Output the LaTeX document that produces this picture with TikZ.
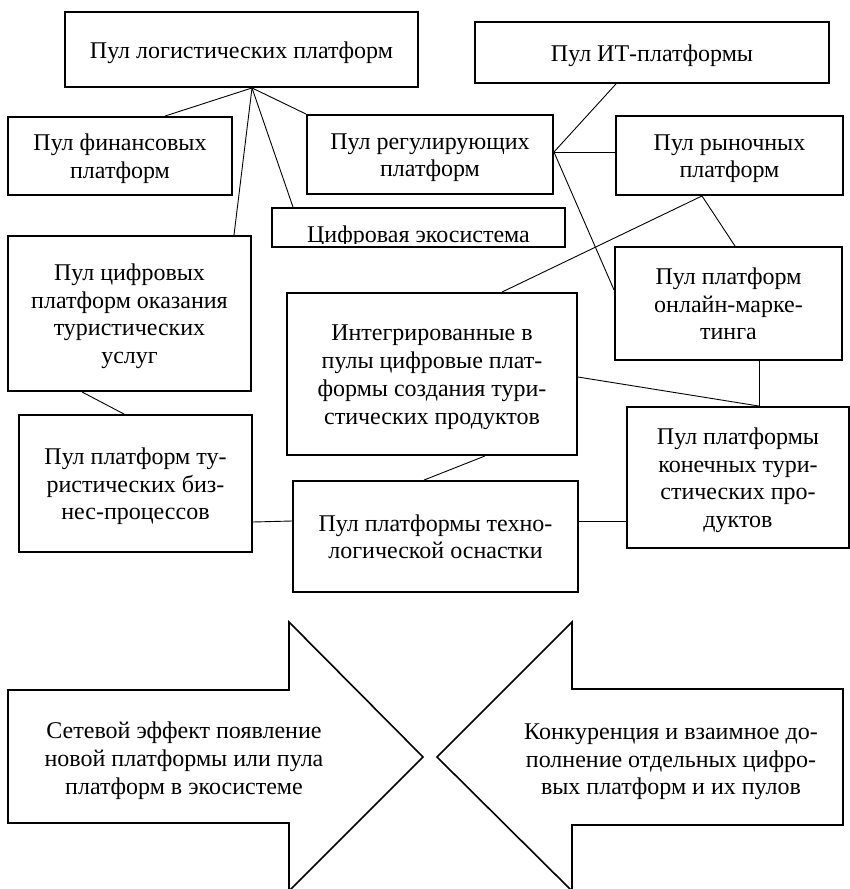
\documentclass[tikz,border=0pt]{standalone}
\usepackage{fontspec}
\setmainfont{Liberation Serif}
\newcommand\firststrut{\rule{0pt}{18pt}}
\newcommand\laststrut{\rule[-6pt]{0pt}{0pt}}
\newcommand\mybox[5]{%
  \node[box, minimum width=#3pt, minimum height=#4pt] (#1) at (#2) {};
  \node[txt, yshift=-2.5pt] (#1-t) at (#1) {\firststrut#5\laststrut};}
\begin{document}
\begin{tikzpicture}[x=1pt,y=-1pt,
  txt/.style={align=center, inner sep=0pt, font=\fontsize{24}{27.7}\selectfont},
  box/.style={draw, line width=1.9pt, inner sep=0pt},
  link/.style={line width=0.9pt},
  bigarrow/.style={draw, line width=1.6pt, line join=miter}]
\useasboundingbox (0,0) rectangle (850,889);

% boxes
\mybox{log}{241.5,49.5}{353}{75}{Пул логистических платформ}
\mybox{fin}{120,156}{224}{78}{Пул финансовых\\платформ}
\mybox{reg}{430,154.5}{246}{79}{Пул регулирующих\\платформ}
\node[box, minimum width=293pt, minimum height=39pt] (eco) at (418.5,227.5) {};
\begin{scope}
  \clip (eco.north west) rectangle ([yshift=4pt]eco.south east);
  \node[txt, anchor=base] (eco-t) at (418.5,242) {Цифровая экосистема};
\end{scope}
\mybox{it}{652,52.5}{354}{61}{Пул ИТ-платформы}
\mybox{mkt}{729.5,155.5}{227}{79}{Пул рыночных\\платформ}
\mybox{onl}{728.5,303.5}{227}{113}{Пул платформ\\онлайн-марке-\\тинга}
\mybox{tour}{129.5,313.5}{243}{155}{Пул цифровых\\платформ оказания\\туристических\\услуг}
\mybox{integ}{432,374}{290}{162}{Интегрированные в\\пулы цифровые плат-\\формы создания тури-\\стических продуктов}
\mybox{biz}{135.5,483.5}{233}{137}{Пул платформ ту-\\ристических биз-\\нес-процессов}
\mybox{tech}{435.5,536.5}{285}{111}{Пул платформы техно-\\логической оснастки}
\mybox{prod}{738,477.5}{222}{141}{Пул платформы\\конечных тури-\\стических про-\\дуктов}

% connectors
\draw[link] ([xshift=10.5pt]log.south) -- ([xshift=45pt]fin.north);
\draw[link] ([xshift=10.5pt]log.south) -- ([xshift=104.5pt]tour.north);
\draw[link] ([xshift=10.5pt]log.south) -- ([xshift=-125.5pt]eco.north);
\draw[link] ([xshift=10.5pt]log.south) -- (reg.north west);
\draw[link] ([yshift=2.5pt]reg.east) -- ([xshift=-36pt]it.south);
\draw[link] ([yshift=2.5pt]reg.east) -- ([yshift=3.5pt]mkt.west);
\draw[link] ([yshift=2.5pt]reg.east) -- ([yshift=13.5pt]onl.west);
\draw[link] ([xshift=-27.5pt]mkt.south) -- ([xshift=6.5pt]onl.north);
\draw[link] ([xshift=-27.5pt]mkt.south) -- ([xshift=70pt]integ.north);
\draw[link] ([xshift=30.5pt]onl.south) -- ([xshift=21pt]prod.north);
\draw[link] ([yshift=-3pt]integ.east) -- ([xshift=21pt]prod.north);
\draw[link] ([xshift=53pt]integ.south) -- ([xshift=-11.5pt]tech.north);
\draw[link] ([xshift=-47.5pt]tour.south) -- ([xshift=-11.5pt]biz.north);
\draw[link] ([yshift=-38.5pt]biz.east) -- ([yshift=15.5pt]tech.west);
\draw[link] ([yshift=15.5pt]tech.east) -- ([yshift=-43.5pt]prod.west);

% big arrows
\draw[bigarrow] (8,690) -- (289,690) -- (289,622) -- (423,757) -- (289,891) -- (289,823) -- (8,823) -- cycle;
\draw[bigarrow] (843,689) -- (572,689) -- (572,622) -- (437,757) -- (572,891) -- (572,825) -- (843,825) -- cycle;
\node[txt] (leftlbl) at (184,760.5) {\firststrut Сетевой эффект появление\\новой платформы или пула\\платформ в экосистеме\laststrut};
\node[txt] (rightlbl) at (671,761) {\firststrut Конкуренция и взаимное до-\\полнение отдельных цифро-\\вых платформ и их пулов\laststrut};
\end{tikzpicture}
\end{document}
